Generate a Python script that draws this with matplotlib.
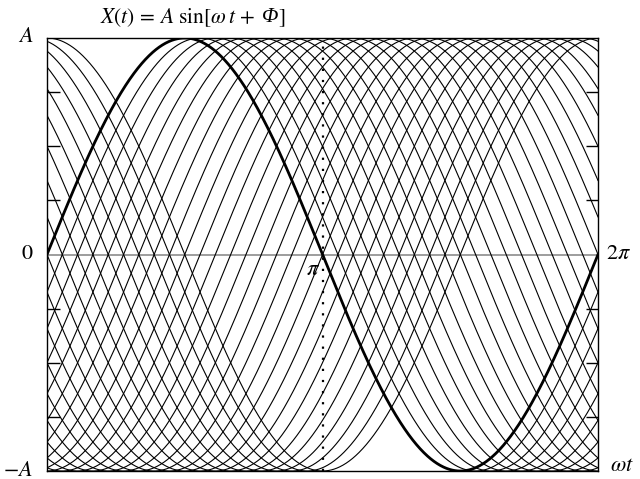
import numpy as np
import matplotlib
matplotlib.use("Agg")
import matplotlib.pyplot as plt

plt.rcParams['mathtext.fontset'] = 'stix'
plt.rcParams['font.family'] = ['Liberation Serif', 'DejaVu Serif']

# Amplitude and phase family (degrees); the reference wave has phase 0
AMPLITUDE = 1.0
REFERENCE_PHASE_DEG = 0
PHASES_DEG = [-10, -20, -30, -40, -50, -60, -70, -80, -90,
              -100, -110, -120, -130, -140, -150, -160, -170, -180,
              -190, -200, -210, -220, -230, -240, -250, -260, -270]
MINOR_TICKS = [-0.75, -0.5, -0.25, 0.25, 0.5, 0.75]

fig = plt.figure(figsize=(6.4, 4.79), dpi=100)
ax = fig.add_axes([47 / 640, 1 - 471 / 479, 551 / 640, 433 / 479])

wt = np.linspace(0, 2 * np.pi, 1200)

# zero line
ax.axhline(0, color='#8c8c8c', lw=1.2, zorder=1)

# phase-shifted family
for ph in PHASES_DEG:
    ax.plot(wt, AMPLITUDE * np.sin(wt + np.deg2rad(ph)), color='black', lw=0.8, zorder=2)

# reference wave
ax.plot(wt, AMPLITUDE * np.sin(wt + np.deg2rad(REFERENCE_PHASE_DEG)), color='black', lw=2.0, zorder=3)

# half-period marker
ax.axvline(np.pi, color='black', lw=1.6, linestyle=(0, (1, 4)), zorder=4)

ax.set_xlim(0, 2 * np.pi)
ax.set_ylim(-AMPLITUDE, AMPLITUDE)

ax.set_xticks([])
ax.set_yticks(MINOR_TICKS)
ax.tick_params(axis='y', direction='in', length=9, width=1, left=True, right=True,
               labelleft=False, labelright=False)
for s in ax.spines.values():
    s.set_color('black')
    s.set_linewidth(1.0)

fs = 16
ax.text(-0.025, 1.0, r'$A$', transform=ax.transAxes, ha='right', va='center', fontsize=fs)
ax.text(-0.025, 0.5, r'$0$', transform=ax.transAxes, ha='right', va='center', fontsize=fs)
ax.text(-0.025, 0.0, r'$-A$', transform=ax.transAxes, ha='right', va='center', fontsize=fs)
ax.text(1.015, 0.5, r'$2\pi$', transform=ax.transAxes, ha='left', va='center', fontsize=fs)
ax.text(1.022, 0.01, r'$\omega t$', transform=ax.transAxes, ha='left', va='center', fontsize=fs)
ax.text(np.pi - 0.03, -0.03, r'$\pi$', ha='right', va='top', fontsize=fs, zorder=5)

# title: Phi set in italic to match the other symbols
title_y = 1 - 18 / 479
t1 = fig.text(187 / 640 - 0.014, title_y, r'$X(t)\, =\, A\ \sin[\omega\, t\, +$',
              ha='center', va='center', fontsize=15.5)
fig.canvas.draw()
bb = t1.get_window_extent()
t2 = fig.text(bb.x1 / 640 + 0.009, title_y, 'Φ', fontstyle='italic', family='Liberation Serif',
              ha='left', va='center', fontsize=15.5)
fig.canvas.draw()
bb2 = t2.get_window_extent()
fig.text(bb2.x1 / 640 + 0.001, title_y, r'$]$', ha='left', va='center', fontsize=15.5)

fig.savefig('out.png', dpi=100)
